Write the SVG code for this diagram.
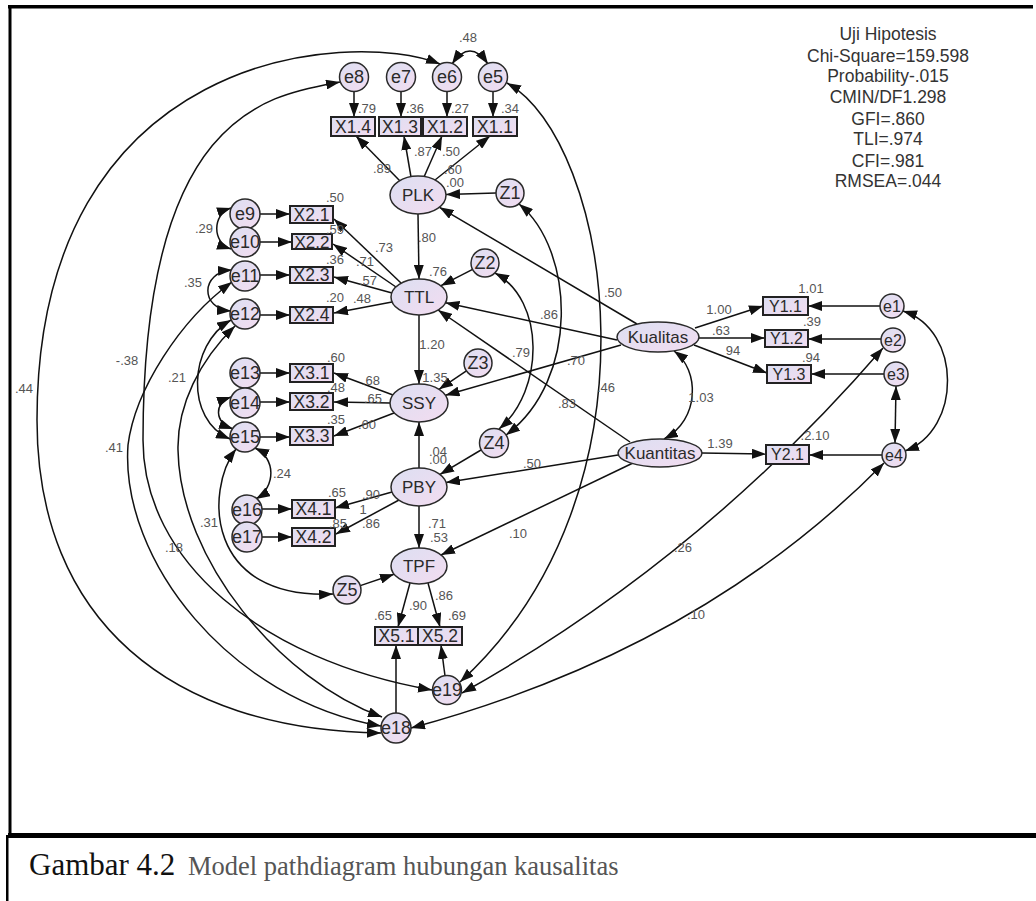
<svg xmlns="http://www.w3.org/2000/svg" width="1036" height="901" viewBox="0 0 1036 901">
<defs>
<linearGradient id="g" x1="0" y1="0" x2="1" y2="1"><stop offset="0" stop-color="#dcdff2"/><stop offset="1" stop-color="#f3dcf0"/></linearGradient>
<marker id="ah" markerUnits="userSpaceOnUse" markerWidth="14" markerHeight="10" refX="14" refY="5" orient="auto-start-reverse"><path d="M0,0 L14,5 L0,10 z" fill="#111"/></marker>
</defs>
<style>
.c{fill:url(#g);stroke:#2a2a2a;stroke-width:1.5}
.b{fill:url(#g);stroke:#222;stroke-width:2}
.n{font-family:"Liberation Sans",Arial,sans-serif;fill:#2a2a2a;text-anchor:middle;font-size:18px}
.m{font-size:17px}
.x{font-size:17.5px}
.r{font-size:16px}
.l{font-family:"Liberation Sans",Arial,sans-serif;font-size:13px;fill:#555;text-anchor:middle}
.st{font-family:"Liberation Sans",Arial,sans-serif;font-size:17.5px;fill:#333;text-anchor:middle}
.p{fill:none;stroke:#111;stroke-width:1.5}
.s{marker-end:url(#ah)}
.d{marker-start:url(#ah);marker-end:url(#ah)}
</style>
<rect width="1036" height="901" fill="#fff"/>
<g id="frame" fill="#000">
<rect x="8" y="5" width="1025" height="3.5"/>
<rect x="8.5" y="5" width="3" height="830"/>
<rect x="8" y="833" width="1028" height="5"/>
<rect x="6" y="835" width="2.5" height="66"/>
</g>
<g id="connectors" class="p">
<path class="s" d="M354,91.5 V117"/>
<path class="s" d="M401,91.5 V117"/>
<path class="s" d="M447,91.5 V117"/>
<path class="s" d="M493,91.5 V117"/>
<path class="s" d="M400,181 L356,136"/>
<path class="s" d="M411,177 L404,136"/>
<path class="s" d="M424,177 L442,136"/>
<path class="s" d="M435,180 L490,136"/>
<path class="s" d="M496,193 L446,194.5"/>
<path class="s" d="M418,214 L419,279"/>
<path class="d" d="M452,64 Q470,38 488,64"/>
<path class="s" d="M260,214 H290"/>
<path class="s" d="M260,242 H292"/>
<path class="s" d="M260,275 H290"/>
<path class="s" d="M260,315 H290"/>
<path class="s" d="M401,283 L334,219"/>
<path class="s" d="M396,287 L333,244"/>
<path class="s" d="M392,293 L334,277"/>
<path class="s" d="M392,302 L334,313"/>
<path class="d" d="M231,208 C212,214 212,243 231,249"/>
<path class="d" d="M232,270 C200,272 200,309 231,311"/>
<path class="s" d="M472.6,269.4 L441,285.7"/>
<path class="s" d="M617,340 L445.5,302.8"/>
<path class="s" d="M637,324 L439.5,207.3"/>
<path class="s" d="M630,442 L438,310"/>
<path class="s" d="M419,315 L419,384"/>
<path class="s" d="M260,373 H290"/>
<path class="s" d="M260,402 H290"/>
<path class="s" d="M260,437 H290"/>
<path class="s" d="M393,395 L334,373"/>
<path class="s" d="M390,403 L334,402"/>
<path class="s" d="M394,413 L334,436"/>
<path class="s" d="M466.4,370.9 L439,389.3"/>
<path class="s" d="M621,345 L445.5,395.3"/>
<path class="s" d="M419,468 L419,422"/>
<path class="d" d="M231,397 C214,403 214,422 233,429"/>
<path class="d" d="M231,320 C188,345 185,420 230,439"/>
<path class="d" d="M255,448 C276,458 276,487 256,499"/>
<path class="d" d="M236,449 C205,490 205,600 333,594"/>
<path class="s" d="M262,509 H292"/>
<path class="s" d="M262,537 H292"/>
<path class="s" d="M392,492 L335,508"/>
<path class="s" d="M399,500 L336,534"/>
<path class="s" d="M481,450 L440,474.4"/>
<path class="s" d="M618,455 L446,482.6"/>
<path class="s" d="M419,506 L419,548"/>
<path class="s" d="M633,463 L441,555"/>
<path class="s" d="M360.3,585.6 L394,574.3"/>
<path class="s" d="M410,583 L398,627"/>
<path class="s" d="M428,583 L440,627"/>
<path class="s" d="M396,713 L396,645"/>
<path class="s" d="M445,676 L441,645"/>
<path class="s" d="M695,328 L763,306"/>
<path class="s" d="M699,338 L765,338"/>
<path class="s" d="M694,345 L767,373"/>
<path class="s" d="M702,453 L766,454"/>
<path class="s" d="M880,306 L808,306"/>
<path class="s" d="M881,339 L808,339"/>
<path class="s" d="M884,374 L811,374"/>
<path class="s" d="M882,455 L809,455"/>
<path class="d" d="M896,386 L895,443"/>
<path class="d" d="M903,311 C962,330 962,430 905,451"/>
<path class="d" d="M674,351 C700,370 700,420 664,439"/>
<path class="d" d="M440,64 C350,28 37,50 37,420 C37,620 170,730 381,733"/>
<path class="d" d="M340,82 C270,95 143,110 143,440 C143,560 260,660 432,690"/>
<path class="d" d="M232,282 C180,320 135,390 128,445 C120,560 230,700 381,726"/>
<path class="d" d="M235,326 C200,360 177,405 178,450 C180,560 280,680 382,717"/>
<path class="d" d="M507,83 C610,140 670,490 460,682"/>
<path class="d" d="M462,693 Q700,560 883,348"/>
<path class="d" d="M411,728 Q700,650 884,463"/>
<path class="d" d="M519,204 C575,250 580,380 506,435"/>
<path class="d" d="M495,273 C545,300 545,390 499,429"/>
</g>
<g id="e8"><circle class="c" cx="354" cy="77" r="14.5"/><text class="n" x="354" y="83.4">e8</text></g>
<g id="e7"><circle class="c" cx="401" cy="77" r="14.5"/><text class="n" x="401" y="83.4">e7</text></g>
<g id="e6"><circle class="c" cx="447" cy="77" r="14.5"/><text class="n" x="447" y="83.4">e6</text></g>
<g id="e5"><circle class="c" cx="493" cy="77" r="14.5"/><text class="n" x="493" y="83.4">e5</text></g>
<g id="X1.4"><rect class="b" x="331" y="117" width="44" height="19"/><text class="n x" x="353" y="132.8">X1.4</text></g>
<g id="X1.3"><rect class="b" x="379" y="117" width="42" height="19"/><text class="n x" x="400" y="132.8">X1.3</text></g>
<g id="X1.2"><rect class="b" x="423" y="117" width="44" height="19"/><text class="n x" x="445" y="132.8">X1.2</text></g>
<g id="X1.1"><rect class="b" x="473" y="117" width="44" height="19"/><text class="n x" x="495" y="132.8">X1.1</text></g>
<g id="PLK"><ellipse class="c" cx="418" cy="195" rx="28" ry="19"/><text class="n m" x="418" y="201">PLK</text></g>
<g id="Z1"><circle class="c" cx="510" cy="193" r="14"/><text class="n" x="510" y="199.4">Z1</text></g>
<g id="e9"><circle class="c" cx="245" cy="214" r="15"/><text class="n" x="245" y="220.4">e9</text></g>
<g id="e10"><circle class="c" cx="245" cy="242" r="15"/><text class="n" x="245" y="248.4">e10</text></g>
<g id="e11"><circle class="c" cx="245" cy="276" r="15"/><text class="n" x="245" y="282.4">e11</text></g>
<g id="e12"><circle class="c" cx="245" cy="314" r="15"/><text class="n" x="245" y="320.4">e12</text></g>
<g id="X2.1"><rect class="b" x="290" y="206" width="43" height="17"/><text class="n x" x="311.5" y="220.8">X2.1</text></g>
<g id="X2.2"><rect class="b" x="292" y="234" width="40" height="15"/><text class="n m" x="312" y="247.6">X2.2</text></g>
<g id="X2.3"><rect class="b" x="290" y="267" width="43" height="16"/><text class="n x" x="311.5" y="281.3">X2.3</text></g>
<g id="X2.4"><rect class="b" x="290" y="307" width="43" height="16"/><text class="n x" x="311.5" y="321.3">X2.4</text></g>
<g id="TTL"><ellipse class="c" cx="419" cy="297" rx="28" ry="18"/><text class="n m" x="419" y="303">TTL</text></g>
<g id="Z2"><circle class="c" cx="485" cy="263" r="14"/><text class="n" x="485" y="269.4">Z2</text></g>
<g id="e13"><circle class="c" cx="245" cy="373" r="15"/><text class="n" x="245" y="379.4">e13</text></g>
<g id="e14"><circle class="c" cx="245" cy="403" r="15"/><text class="n" x="245" y="409.4">e14</text></g>
<g id="e15"><circle class="c" cx="245" cy="437" r="15"/><text class="n" x="245" y="443.4">e15</text></g>
<g id="X3.1"><rect class="b" x="290" y="364" width="43" height="18"/><text class="n x" x="311.5" y="379.3">X3.1</text></g>
<g id="X3.2"><rect class="b" x="290" y="393" width="43" height="17"/><text class="n x" x="311.5" y="407.8">X3.2</text></g>
<g id="X3.3"><rect class="b" x="290" y="427" width="43" height="18"/><text class="n x" x="311.5" y="442.3">X3.3</text></g>
<g id="SSY"><ellipse class="c" cx="419" cy="403" rx="29" ry="19"/><text class="n m" x="419" y="409">SSY</text></g>
<g id="Z3"><circle class="c" cx="478" cy="363" r="14"/><text class="n" x="478" y="369.4">Z3</text></g>
<g id="Z4"><circle class="c" cx="494" cy="443" r="14.5"/><text class="n" x="494" y="449.4">Z4</text></g>
<g id="PBY"><ellipse class="c" cx="419" cy="487" rx="28" ry="19"/><text class="n m" x="419" y="493">PBY</text></g>
<g id="e16"><circle class="c" cx="247" cy="510" r="15"/><text class="n" x="247" y="516.4">e16</text></g>
<g id="e17"><circle class="c" cx="247" cy="537" r="15"/><text class="n" x="247" y="543.4">e17</text></g>
<g id="X4.1"><rect class="b" x="292" y="500" width="43" height="18"/><text class="n x" x="313.5" y="515.3">X4.1</text></g>
<g id="X4.2"><rect class="b" x="292" y="528" width="43" height="18"/><text class="n x" x="313.5" y="543.3">X4.2</text></g>
<g id="TPF"><ellipse class="c" cx="419" cy="566" rx="28" ry="18"/><text class="n m" x="419" y="572">TPF</text></g>
<g id="Z5"><circle class="c" cx="347" cy="590" r="14"/><text class="n" x="347" y="596.4">Z5</text></g>
<g id="X5.1"><rect class="b" x="375" y="627" width="43" height="18"/><text class="n x" x="396.5" y="642.3">X5.1</text></g>
<g id="X5.2"><rect class="b" x="418" y="627" width="44" height="18"/><text class="n x" x="440" y="642.3">X5.2</text></g>
<g id="e19"><circle class="c" cx="447" cy="690" r="14.5"/><text class="n" x="447" y="696.4">e19</text></g>
<g id="e18"><circle class="c" cx="396" cy="728" r="15"/><text class="n" x="396" y="734.4">e18</text></g>
<g id="Kualitas"><ellipse class="c" cx="658" cy="337" rx="41" ry="15"/><text class="n m" x="658" y="343">Kualitas</text></g>
<g id="Kuantitas"><ellipse class="c" cx="660" cy="453" rx="42" ry="14"/><text class="n m" x="660" y="459">Kuantitas</text></g>
<g id="Y1.1"><rect class="b" x="763" y="297" width="45" height="18"/><text class="n r" x="785.5" y="311.7">Y1.1</text></g>
<g id="Y1.2"><rect class="b" x="765" y="330" width="43" height="17"/><text class="n r" x="786.5" y="344.2">Y1.2</text></g>
<g id="Y1.3"><rect class="b" x="767" y="365" width="44" height="18"/><text class="n r" x="789" y="379.7">Y1.3</text></g>
<g id="Y2.1"><rect class="b" x="766" y="445" width="43" height="19"/><text class="n r" x="787.5" y="460.2">Y2.1</text></g>
<g id="e1"><circle class="c" cx="892" cy="306" r="12"/><text class="n r" x="892" y="311.7">e1</text></g>
<g id="e2"><circle class="c" cx="893" cy="340" r="12"/><text class="n r" x="893" y="345.7">e2</text></g>
<g id="e3"><circle class="c" cx="896" cy="374" r="12"/><text class="n r" x="896" y="379.7">e3</text></g>
<g id="e4"><circle class="c" cx="894" cy="455" r="12"/><text class="n r" x="894" y="460.7">e4</text></g>
<g id="labels" class="l">
<text x="468" y="41.7">.48</text>
<text x="367" y="112.7">.79</text>
<text x="415" y="112.7">.36</text>
<text x="460" y="112.7">.27</text>
<text x="510" y="112.7">.34</text>
<text x="382" y="172.7">.89</text>
<text x="423" y="155.7">.87</text>
<text x="451" y="155.7">.50</text>
<text x="453" y="173.7">.60</text>
<text x="455" y="186.7">.00</text>
<text x="335" y="201.7">.50</text>
<text x="335" y="233.7">.59</text>
<text x="384" y="251.7">.73</text>
<text x="365" y="265.7">.71</text>
<text x="335" y="263.7">.36</text>
<text x="368" y="284.7">.57</text>
<text x="335" y="301.7">.20</text>
<text x="362" y="302.7">.48</text>
<text x="427" y="241.7">.80</text>
<text x="438" y="275.7">.76</text>
<text x="432" y="348.7">1.20</text>
<text x="204" y="232.7">.29</text>
<text x="193" y="286.7">.35</text>
<text x="336" y="361.7">.60</text>
<text x="371" y="384.7">.68</text>
<text x="336" y="391.7">.48</text>
<text x="373" y="402.7">.65</text>
<text x="336" y="423.7">.35</text>
<text x="367" y="428.7">.60</text>
<text x="435" y="381.7">1.35</text>
<text x="282" y="477.7">.24</text>
<text x="438" y="455.7">.04</text>
<text x="438" y="463.7">.00</text>
<text x="337" y="496.7">.65</text>
<text x="371" y="498.7">.90</text>
<text x="363" y="513.7">1</text>
<text x="338" y="527.7">.85</text>
<text x="371" y="527.7">.86</text>
<text x="437" y="527.7">.71</text>
<text x="439" y="541.7">.53</text>
<text x="518" y="537.7">.10</text>
<text x="418" y="609.7">.90</text>
<text x="444" y="599.7">.86</text>
<text x="383" y="619.7">.65</text>
<text x="457" y="619.7">.69</text>
<text x="613" y="296.7">.50</text>
<text x="719" y="313.7">1.00</text>
<text x="811" y="292.7">1.01</text>
<text x="721" y="334.7">.63</text>
<text x="812" y="325.7">.39</text>
<text x="733" y="354.7">94</text>
<text x="811" y="361.7">.94</text>
<text x="701" y="401.7">1.03</text>
<text x="606" y="391.7">.46</text>
<text x="720" y="447.7">1.39</text>
<text x="815" y="439.7">.2.10</text>
<text x="549" y="318.7">.86</text>
<text x="521" y="356.7">.79</text>
<text x="576" y="364.7">.70</text>
<text x="567" y="407.7">.83</text>
<text x="532" y="467.7">.50</text>
<text x="683" y="551.7">.26</text>
<text x="696" y="618.7">.10</text>
<text x="24" y="392.7">.44</text>
<text x="127" y="364.7">-.38</text>
<text x="177" y="381.7">.21</text>
<text x="114" y="451.7">.41</text>
<text x="209" y="526.7">.31</text>
<text x="174" y="551.7">.18</text>
</g>
<g id="stats" class="st">
<text x="888" y="40">Uji Hipotesis</text>
<text x="888" y="62">Chi-Square=159.598</text>
<text x="888" y="82">Probability-.015</text>
<text x="888" y="103">CMIN/DF1.298</text>
<text x="888" y="125">GFI=.860</text>
<text x="888" y="145">TLI=.974</text>
<text x="888" y="167">CFI=.981</text>
<text x="888" y="187">RMSEA=.044</text>
</g>
<g id="caption" font-family="'Liberation Serif','Times New Roman',serif">
<text x="29" y="875" font-size="31" fill="#111">Gambar 4.2</text>
<text x="188" y="875" font-size="26.5" fill="#555">Model pathdiagram hubungan kausalitas</text>
</g>
</svg>
